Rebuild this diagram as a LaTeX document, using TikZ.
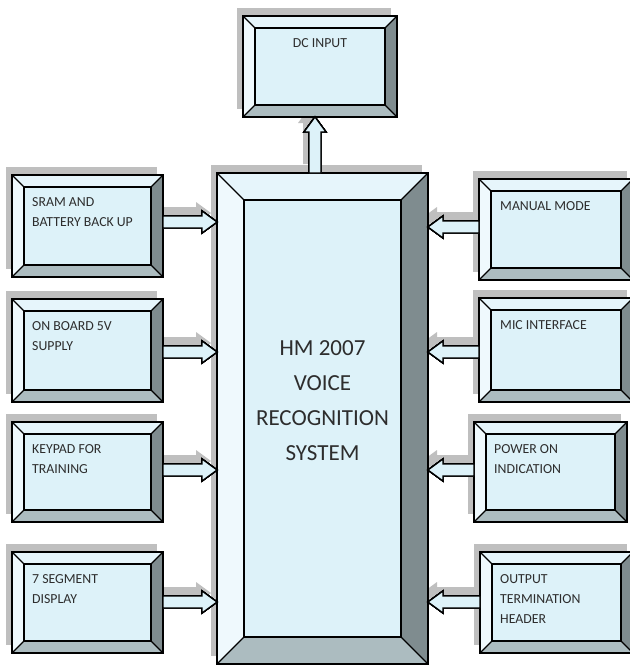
\documentclass[tikz,border=0pt]{standalone}
\usepackage{fontspec}
\setmainfont{Carlito}
\usetikzlibrary{calc}

\definecolor{facecol}{RGB}{221,242,249}
\definecolor{topcol}{RGB}{230,245,251}
\definecolor{leftcol}{RGB}{239,249,253}
\definecolor{rightcol}{RGB}{127,140,143}
\definecolor{bottomcol}{RGB}{172,188,192}
\definecolor{shadowcol}{RGB}{191,191,191}
\definecolor{textcol}{RGB}{45,45,45}

\tikzset{
	panel/.style 2 args={rectangle, inner sep=0pt, outer sep=0pt, anchor=north west,
		minimum width=#1, minimum height=#2},
	outline/.style={draw=black, line width=1.3pt, line join=miter},
	boxtext/.style={inner sep=0pt, anchor=north west, align=left, text=textcol,
		font=\fontsize{13.8}{20}\selectfont},
	bigtext/.style={inner sep=0pt, anchor=north, align=center, text=textcol,
		font=\fontsize{23}{35}\selectfont},
	blockarrow/.style={outline, fill=facecol}
}

% bevelled panel round node #1, bevel width #2
\newcommand{\bevelbox}[2]{%
	\coordinate (#1-a) at ($(#1.north west)+(#2,#2)$);
	\coordinate (#1-b) at ($(#1.north east)+(-#2,#2)$);
	\coordinate (#1-c) at ($(#1.south east)+(-#2,-#2)$);
	\coordinate (#1-d) at ($(#1.south west)+(#2,-#2)$);
	\fill[topcol] (#1.north west) -- (#1.north east) -- (#1-b) -- (#1-a) -- cycle;
	\fill[rightcol] (#1.north east) -- (#1.south east) -- (#1-c) -- (#1-b) -- cycle;
	\fill[bottomcol] (#1.south east) -- (#1.south west) -- (#1-d) -- (#1-c) -- cycle;
	\fill[leftcol] (#1.south west) -- (#1.north west) -- (#1-a) -- (#1-d) -- cycle;
	\fill[facecol] (#1-a) rectangle (#1-c);
	\draw[outline] (#1.north west) rectangle (#1.south east);
	\draw[outline] (#1-a) rectangle (#1-c);
	\draw[outline] (#1.north west) -- (#1-a) (#1.north east) -- (#1-b)
		(#1.south east) -- (#1-c) (#1.south west) -- (#1-d);
}

% block arrow from #1 to #2, moved by #3
\newcommand{\arrowpath}[3]{%
	($(#1)!\shafthalf!90:(#2)+(#3)$) --
	($(#2)!\headlen!(#1)!\shafthalf!-90:(#1)+(#3)$) --
	($(#2)!\headlen!(#1)!\headhalf!-90:(#1)+(#3)$) --
	($(#2)+(#3)$) --
	($(#2)!\headlen!(#1)!\headhalf!90:(#1)+(#3)$) --
	($(#2)!\headlen!(#1)!\shafthalf!90:(#1)+(#3)$) --
	($(#1)!\shafthalf!-90:(#2)+(#3)$) -- cycle}

\begin{document}
\begin{tikzpicture}[x=1pt, y=-1pt]
	\useasboundingbox (0,0) rectangle (630,665);
	% Settings
	\def\shafthalf{6pt}
	\def\headhalf{11pt}
	\def\headlen{15pt}
	% /Settings
	\node[panel={211}{491}] (hm) at (217,173) {};
	\node[panel={154}{101}] (dc) at (243,16) {};
	\foreach \name/\x/\y/\w/\h in {sram/12/175/151/102, onboard/12/299/151/103,
		keypad/12/422/151/100, segment/12/552/151/101, manual/479/179/154/101,
		mic/479/298/154/104, power/474/422/153/100, output/480/552/153/101}
		\node[panel={\w}{\h}] (\name) at (\x,\y) {};
	% arrow ends
	\foreach \src/\yy in {sram/222, onboard/352, keypad/470, segment/602} {
		\coordinate (\src-tail) at (\src.east |- 0,\yy);
		\coordinate (\src-tip) at (hm.west |- 0,\yy);
	}
	\foreach \src/\yy in {manual/227, mic/352, power/470, output/602} {
		\coordinate (\src-tail) at (\src.west |- 0,\yy);
		\coordinate (\src-tip) at (hm.east |- 0,\yy);
	}
	\coordinate (hm-tail) at (hm.north -| 315,0);
	\coordinate (hm-tip) at (dc.south -| 315,0);
	% shadows
	\foreach \name in {hm,dc,sram,onboard,keypad,segment,manual,mic,power,output}
		\fill[shadowcol] ($(\name.north west)+(-6,-8)$) rectangle ($(\name.south east)+(-6,-8)$);
	\foreach \name in {hm,sram,onboard,keypad,segment,manual,mic,power,output}
		\fill[shadowcol] \arrowpath{\name-tail}{\name-tip}{-6,-9};
	% panels
	\bevelbox{hm}{27}
	\foreach \name in {dc,sram,onboard,keypad,segment,manual,mic,power,output}
		\bevelbox{\name}{12}
	% arrows
	\foreach \name in {hm,sram,onboard,keypad,segment,manual,mic,power,output}
		\draw[blockarrow] \arrowpath{\name-tail}{\name-tip}{0,0};
	% texts
	\node[boxtext, anchor=north] (dc-text) at ($(dc.north)+(0,22)$) {DC INPUT};
	\node[boxtext] (sram-text) at ($(sram.north west)+(20,22)$) {SRAM AND\\BATTERY BACK UP};
	\node[boxtext] (onboard-text) at ($(onboard.north west)+(20,22)$) {ON BOARD 5V\\SUPPLY};
	\node[boxtext] (keypad-text) at ($(keypad.north west)+(20,22)$) {KEYPAD FOR\\TRAINING};
	\node[boxtext] (segment-text) at ($(segment.north west)+(20,22)$) {7 SEGMENT\\DISPLAY};
	\node[boxtext] (manual-text) at ($(manual.north west)+(21,22)$) {MANUAL MODE};
	\node[boxtext] (mic-text) at ($(mic.north west)+(21,22)$) {MIC INTERFACE};
	\node[boxtext] (power-text) at ($(power.north west)+(20,22)$) {POWER ON\\INDICATION};
	\node[boxtext] (output-text) at ($(output.north west)+(20,22)$) {OUTPUT\\TERMINATION\\HEADER};
	\node[bigtext] (hm-text) at ($(hm.north)+(0,167)$) {HM 2007\\VOICE\\RECOGNITION\\SYSTEM};
\end{tikzpicture}
\end{document}
